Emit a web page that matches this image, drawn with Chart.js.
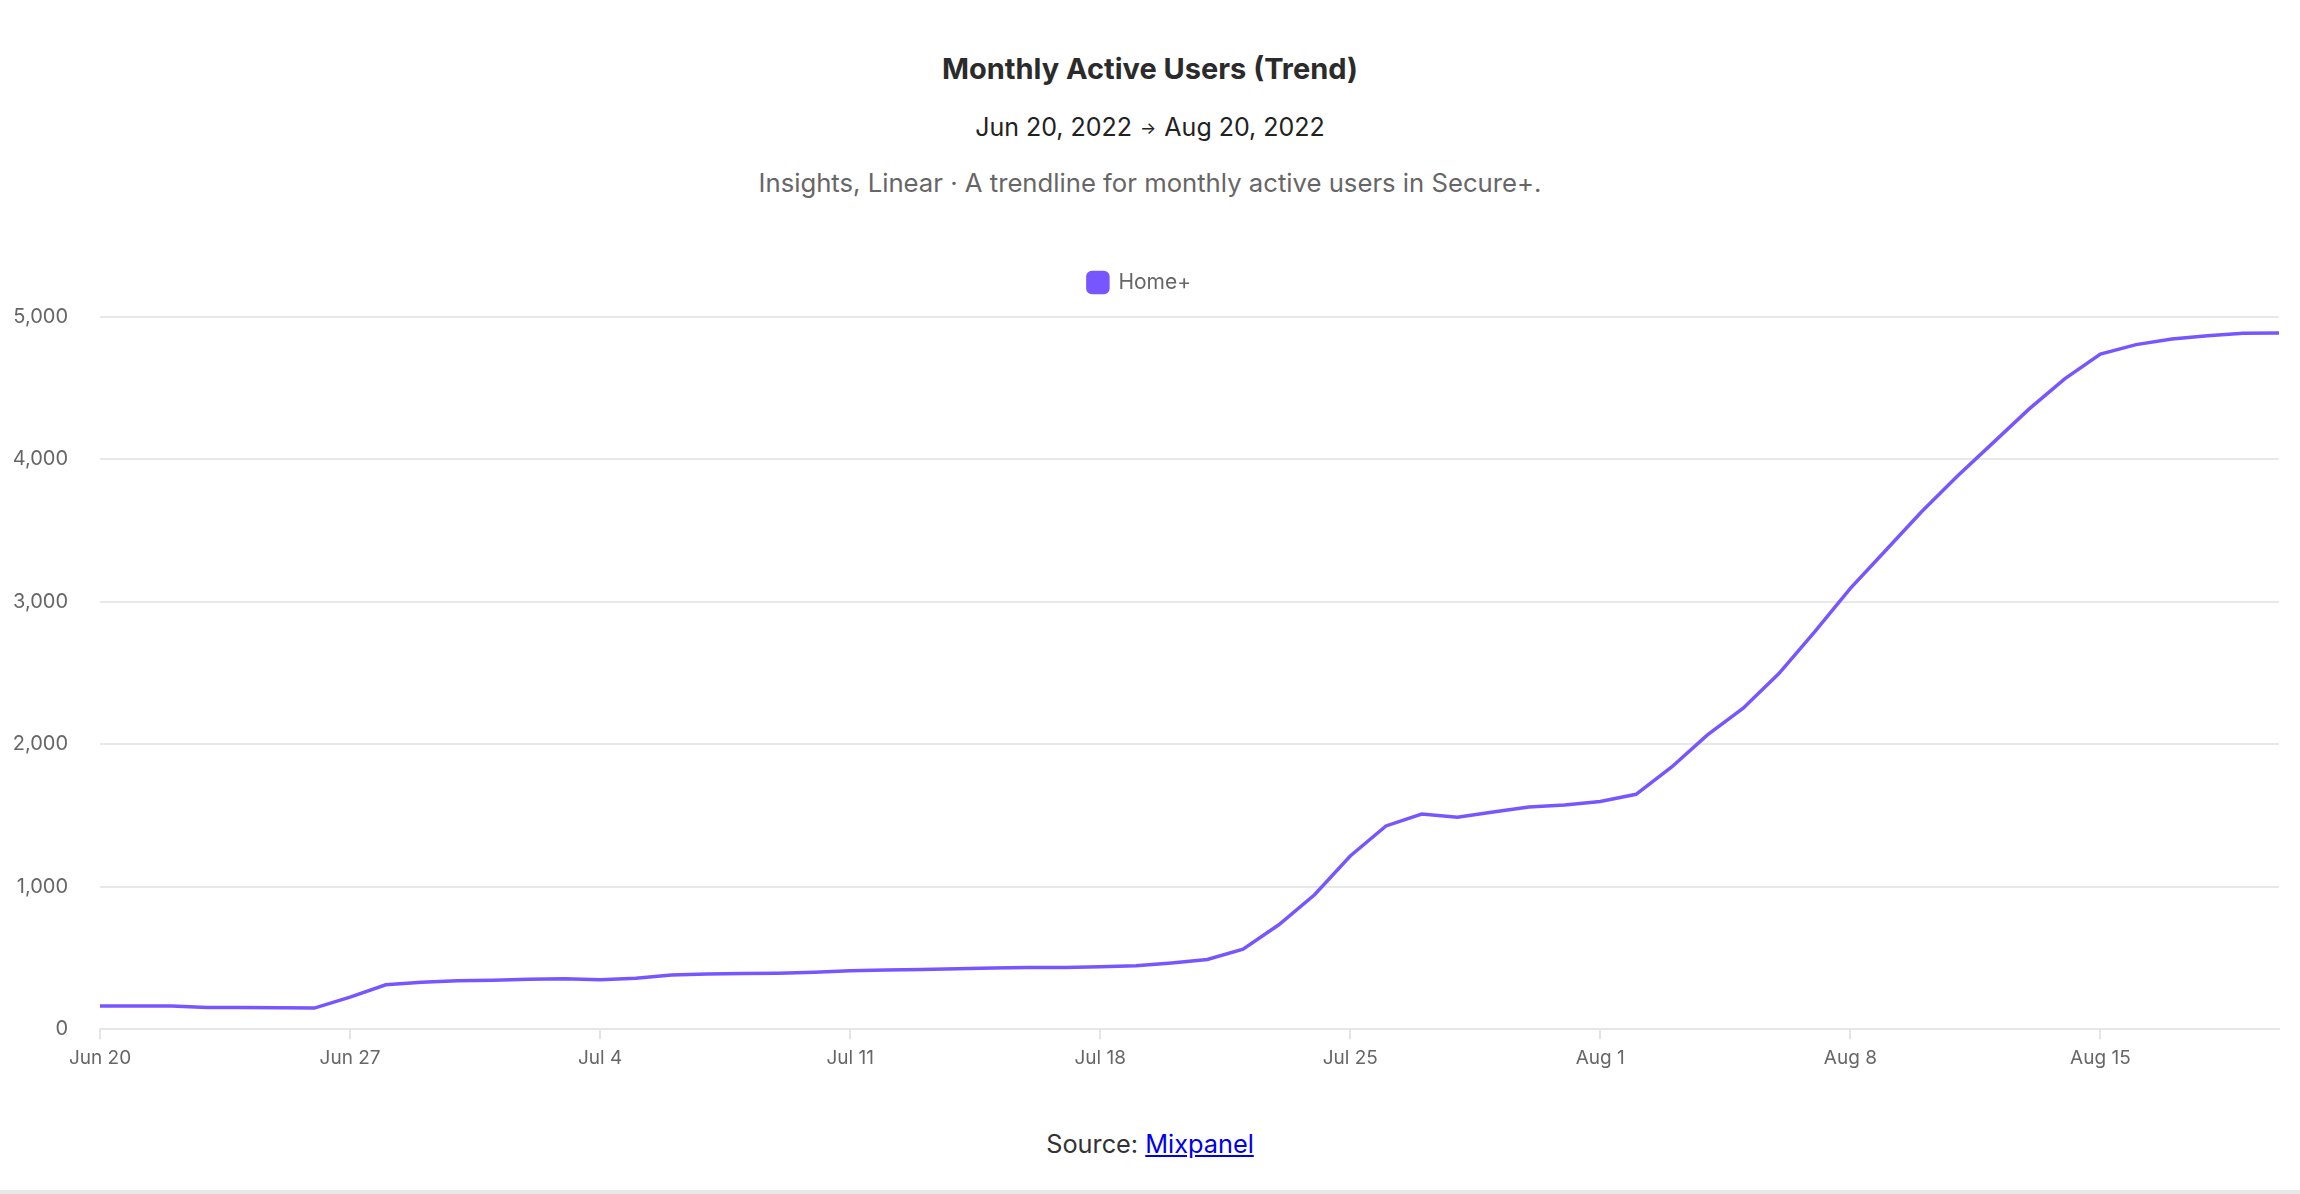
<!DOCTYPE html>
<html><head><meta charset="utf-8">
<script src="https://cdn.jsdelivr.net/npm/chart.js@4.4.0/dist/chart.umd.min.js"></script>
<style>
html,body{margin:0;padding:0;background:#fff;width:2300px;height:1194px;overflow:hidden;font-family:Inter, sans-serif;}
.t{position:absolute;left:0;width:2300px;text-align:center;white-space:nowrap;}
#title{top:50px;font-size:29px;font-weight:700;color:#2b2b2b;line-height:38px;}
#range{top:110px;font-size:25px;color:#222;line-height:34px;}
#range .ar{font-size:17px;margin:0 8px;position:relative;top:-2px;}
#desc{top:166px;font-size:25.7px;color:#666;line-height:34px;}
#wrap{position:absolute;left:0;top:260px;width:2300px;height:860px;}
#source{top:1127px;font-size:25.3px;color:#333;line-height:34px;}
#source a{color:#0000ee;text-decoration:underline;}
#bar{position:absolute;left:0;top:1190px;width:2300px;height:4px;background:#e8e8e8;}
</style></head>
<body>
<div class="t" id="title">Monthly Active Users (Trend)</div>
<div class="t" id="range">Jun 20, 2022<span class="ar">→</span>Aug 20, 2022</div>
<div class="t" id="desc">Insights, Linear · A trendline for monthly active users in Secure+.</div>
<div id="wrap"><canvas id="c" width="2300" height="860"></canvas></div>
<div class="t" id="source">Source: <a href="#">Mixpanel</a></div>
<div id="bar"></div>
<script>
const dates = [
 "Jun 20","Jun 21","Jun 22","Jun 23","Jun 24","Jun 25","Jun 26","Jun 27","Jun 28","Jun 29","Jun 30",
 "Jul 1","Jul 2","Jul 3","Jul 4","Jul 5","Jul 6","Jul 7","Jul 8","Jul 9","Jul 10","Jul 11","Jul 12",
 "Jul 13","Jul 14","Jul 15","Jul 16","Jul 17","Jul 18","Jul 19","Jul 20","Jul 21","Jul 22","Jul 23",
 "Jul 24","Jul 25","Jul 26","Jul 27","Jul 28","Jul 29","Jul 30","Jul 31",
 "Aug 1","Aug 2","Aug 3","Aug 4","Aug 5","Aug 6","Aug 7","Aug 8","Aug 9","Aug 10","Aug 11","Aug 12",
 "Aug 13","Aug 14","Aug 15","Aug 16","Aug 17","Aug 18","Aug 19","Aug 20"
];
const homePlus = [
 162,162,162,152,152,150,148,225,312,330,340,
 344,351,354,347,358,380,387,391,393,400,410,415,
 419,424,429,433,433,438,445,465,490,562,733,
 944,1216,1427,1511,1488,1525,1560,1574,
 1598,1649,1841,2066,2254,2497,2790,3095,3364,3634,3884,4118,
 4353,4566,4740,4806,4845,4868,4886,4888
];
const seriesName = "Home+";
const yTicks = [0,1000,2000,3000,4000,5000];
const tickEvery = 7;

const legendGap = {
  id: 'legendGap',
  beforeInit(chart) {
    const orig = chart.legend.fit;
    chart.legend.fit = function() { orig.call(this); this.height += 14; };
  }
};

new Chart(document.getElementById('c'), {
  type: 'line',
  data: {
    labels: dates,
    datasets: [{
      label: seriesName,
      data: homePlus,
      borderColor: '#7856FF',
      backgroundColor: '#7856FF',
      borderWidth: 3.5,
      pointRadius: 0,
      tension: 0,
      fill: false
    }]
  },
  plugins: [legendGap],
  options: {
    responsive: false,
    animation: false,
    layout: { padding: { left: 0, right: 21, top: 0, bottom: 42 } },
    plugins: {
      tooltip: { enabled: false },
      legend: {
        display: true,
        position: 'top',
        labels: {
          color: '#666',
          font: { family: 'Inter', size: 21 },
          boxWidth: 20, boxHeight: 20,
          useBorderRadius: true, borderRadius: 4,
          padding: 12
        }
      }
    },
    scales: {
      x: {
        grid: { drawOnChartArea: false, drawTicks: true, tickLength: 10, color: '#e4e4e4', lineWidth: 2 },
        border: { display: true, color: '#e6e6e6', width: 2 },
        ticks: {
          autoSkip: false, maxRotation: 0, minRotation: 0,
          color: '#666', font: { family: 'Inter', size: 19 }, padding: 8,
          callback: function(v, i) { return i % tickEvery === 0 ? this.getLabelForValue(v) : null; }
        }
      },
      y: {
        min: yTicks[0], max: yTicks[yTicks.length-1],
        afterBuildTicks: (s) => { s.ticks = yTicks.map(v => ({ value: v })); },
        afterFit: (s) => { s.width = 100; },
        grid: { color: '#e8e8e8', lineWidth: 2, drawTicks: false },
        border: { display: false },
        ticks: {
          color: '#666', font: { family: 'Inter', size: 20 }, padding: 32,
          callback: (v) => v.toLocaleString('en-US')
        }
      }
    }
  }
});
</script>
</body></html>
